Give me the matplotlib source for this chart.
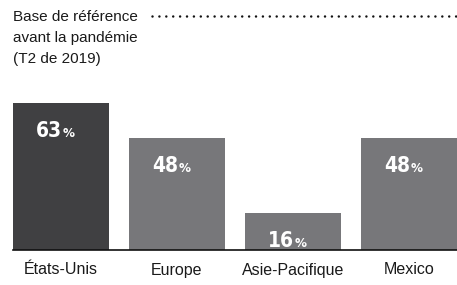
import matplotlib.pyplot as plt
from matplotlib import font_manager

# donnees
regions = ["États-Unis", "Europe", "Asie-Pacifique", "Mexico"]
valeurs = [63, 48, 16, 48]
couleurs = ["#404042", "#77777a", "#77777a", "#77777a"]
reference = 100
titre = ["Base de référence", "avant la pandémie", "(T2 de 2019)"]

# quelles polices etroites sont dispo ?
noms = sorted({(f.name, f.stretch, f.weight) for f in font_manager.fontManager.ttflist})
print([n for n in noms if "ondens" in str(n) or "arrow" in str(n) or n[1] != "normal"])

W, H = 457, 285
fig = plt.figure(figsize=(W / 100, H / 100), dpi=100)

ax = fig.add_axes([13 / W, (H - 250) / H, 444 / W, 234 / H])
largeur = 96 / 116
x = range(len(regions))
ax.bar(x, valeurs, width=largeur, color=couleurs, zorder=2)
ax.set_xlim(-largeur / 2, len(regions) - 1 + largeur / 2)
ax.set_ylim(0, reference)

ax.axhline(0, color="#111111", lw=1.2, zorder=3, clip_on=False)

ax.axhline(reference, xmin=(152 - 13) / 444, xmax=1, color="#111111",
           lw=1.8, linestyle=(0, (0.01, 2.75)), dash_capstyle="round",
           clip_on=False)

for i, v in enumerate(valeurs):
    ax.annotate(f"{v}", xy=(i, v), xytext=(0.7, -24.5), textcoords="offset points",
                ha="right", va="baseline", color="white", fontsize=15,
                fontweight="bold", fontstretch="condensed", family="DejaVu Sans")
    ax.annotate("%", xy=(i, v), xytext=(1.4, -24.5), textcoords="offset points",
                ha="left", va="baseline", color="white", fontsize=9.5,
                fontweight="bold", fontstretch="condensed", family="DejaVu Sans")

ax.set_xticks(list(x))
ax.set_xticklabels(regions, fontsize=11.5, color="#1a1a1a",
                   family=["Liberation Sans", "DejaVu Sans"])
ax.tick_params(axis="x", length=0, pad=9)
ax.set_yticks([])
for s in ax.spines.values():
    s.set_visible(False)

for k, ligne in enumerate(titre):
    fig.text(13 / W, 1 - (21 + 20.8 * k) / H, ligne, ha="left", va="baseline",
             fontsize=11, color="#1a1a1a", family=["Liberation Sans", "DejaVu Sans"])

fig.savefig("out.png", dpi=100)
